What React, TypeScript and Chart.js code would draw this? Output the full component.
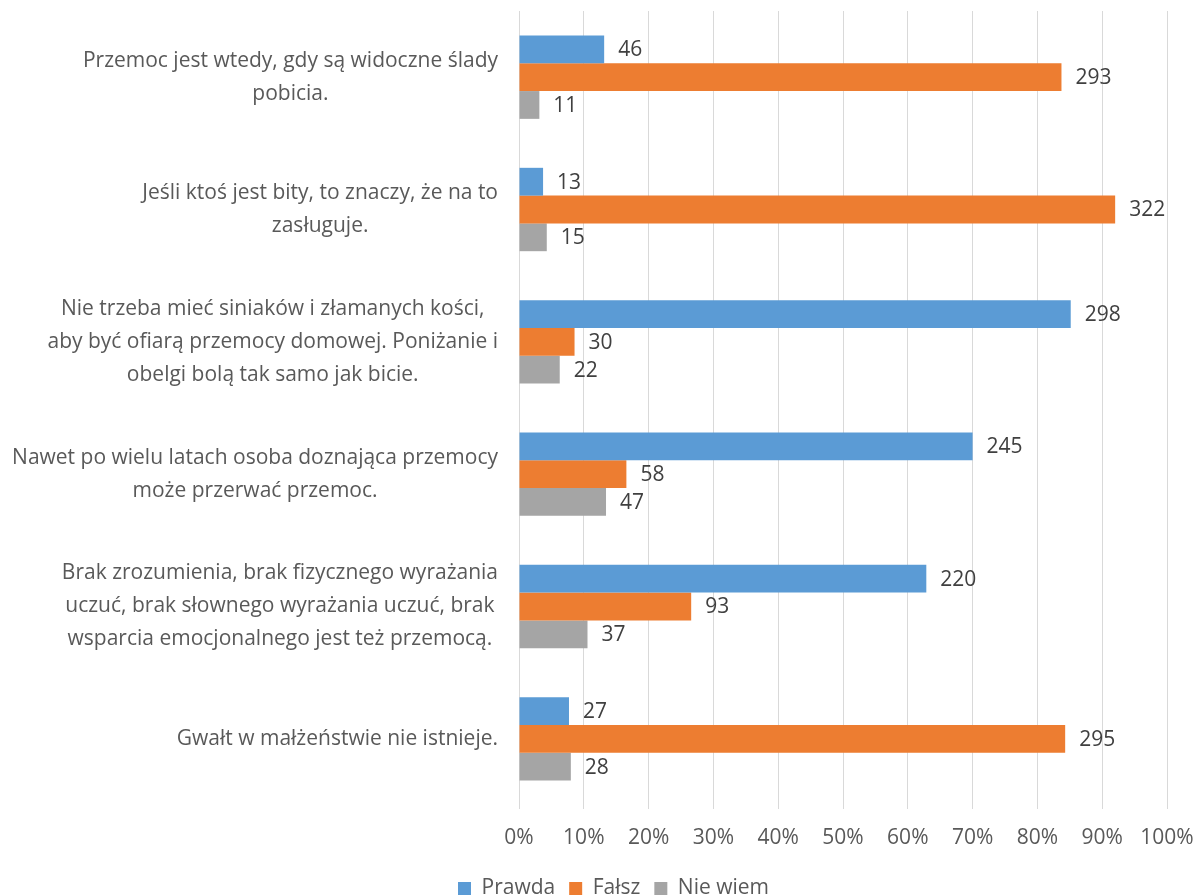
import React, { useEffect, useRef } from "react";
import { Chart, registerables } from "chart.js";

Chart.register(...registerables);

const categories: string[][] = [
  ["Przemoc jest wtedy, gdy są widoczne ślady", "pobicia."],
  ["Jeśli ktoś jest bity, to znaczy, że na to", "zasługuje."],
  [
    "Nie trzeba mieć siniaków i złamanych kości,",
    "aby być ofiarą przemocy domowej. Poniżanie i",
    "obelgi bolą tak samo jak bicie.",
  ],
  ["Nawet po wielu latach osoba doznająca przemocy", "może przerwać przemoc."],
  [
    "Brak zrozumienia, brak fizycznego wyrażania",
    "uczuć, brak słownego wyrażania uczuć, brak",
    "wsparcia emocjonalnego jest też przemocą.",
  ],
  ["Gwałt w małżeństwie nie istnieje."],
];

const seriesNames = ["Prawda", "Fałsz", "Nie wiem"];
const prawda = [46, 13, 298, 245, 220, 27];
const falsz = [293, 322, 30, 58, 93, 295];
const nieWiem = [11, 15, 22, 47, 37, 28];
const colors = ["#5B9BD5", "#ED7D31", "#A5A5A5"];
const xTickValues = [0, 10, 20, 30, 40, 50, 60, 70, 80, 90, 100];

const FONT = "'Open Sans', 'Noto Sans', sans-serif";
const LEFT_PAD = 60;
const PLOT_LEFT = 519;

export default function App() {
  const ref = useRef<HTMLCanvasElement | null>(null);

  useEffect(() => {
    document.body.style.margin = "0";
    const counts = [prawda, falsz, nieWiem];
    const totals = categories.map((_, i) => prawda[i] + falsz[i] + nieWiem[i]);
    const pct = counts.map((arr) => arr.map((v, i) => (v / totals[i]) * 100));

    const labelPlugin = {
      id: "valueLabels",
      afterDatasetsDraw(chart: any) {
        const ctx = chart.ctx;
        ctx.save();
        ctx.font = `21px ${FONT}`;
        ctx.fillStyle = "#404040";
        ctx.textBaseline = "middle";
        ctx.textAlign = "left";
        chart.data.datasets.forEach((ds: any, di: number) => {
          const meta = chart.getDatasetMeta(di);
          meta.data.forEach((bar: any, i: number) => {
            ctx.fillText(String(counts[di][i]), bar.x + 14, bar.y + 1);
          });
        });
        ctx.restore();
      },
    };

    const catPlugin = {
      id: "catLabels",
      afterDraw(chart: any) {
        const ctx = chart.ctx;
        const y = chart.scales.y;
        const right = chart.chartArea.left - 21;
        const lineH = 33;
        ctx.save();
        ctx.font = `21px ${FONT}`;
        ctx.fillStyle = "#595959";
        ctx.textBaseline = "middle";
        categories.forEach((lines, i) => {
          const cy = y.getPixelForTick(i);
          const widths = lines.map((l) => ctx.measureText(l).width);
          const maxW = Math.max(...widths);
          const cx = right - maxW / 2;
          ctx.textAlign = "center";
          lines.forEach((l, k) => {
            const ly = cy + (k - (lines.length - 1) / 2) * lineH;
            ctx.fillText(l, cx, ly);
          });
        });
        ctx.restore();
      },
    };

    const chart = new Chart(ref.current as HTMLCanvasElement, {
      type: "bar",
      data: {
        labels: categories.map((c) => c.join(" ")),
        datasets: seriesNames.map((name, di) => ({
          label: name,
          data: pct[di],
          backgroundColor: colors[di],
          borderWidth: 0,
          barPercentage: 1,
          categoryPercentage: 0.63,
        })),
      },
      options: {
        indexAxis: "y",
        responsive: false,
        animation: false,
        layout: { padding: { top: 11, right: 29, left: LEFT_PAD, bottom: 0 } },
        scales: {
          x: {
            min: 0,
            max: 100,
            afterBuildTicks(scale: any) {
              scale.ticks = xTickValues.map((v) => ({ value: v }));
            },
            afterFit(scale: any) {
              scale.height = 59;
              scale.paddingLeft = 0;
              scale.paddingRight = 0;
            },
            ticks: {
              callback: (v: any) => `${v}%`,
              font: { size: 21, family: FONT },
              color: "#595959",
              padding: 16,
              maxRotation: 0,
            },
            grid: { color: "#D9D9D9", lineWidth: 1, tickLength: 4 },
            border: { display: false },
          },
          y: {
            afterFit(scale: any) {
              scale.width = PLOT_LEFT - LEFT_PAD;
            },
            ticks: { display: false },
            grid: { display: false },
            border: { display: false },
          },
        },
        plugins: {
          legend: {
            position: "bottom",
            labels: {
              boxWidth: 13,
              boxHeight: 13,
              font: { size: 21, family: FONT },
              color: "#595959",
              padding: 14,
            },
          },
          tooltip: { enabled: false },
        },
      },
      plugins: [labelPlugin, catPlugin],
    });
    return () => chart.destroy();
  }, []);

  return (
    <div style={{ width: 1196, height: 896, overflow: "hidden", background: "#fff" }}>
      <canvas ref={ref} width={1196} height={909} style={{ display: "block" }} />
    </div>
  );
}
